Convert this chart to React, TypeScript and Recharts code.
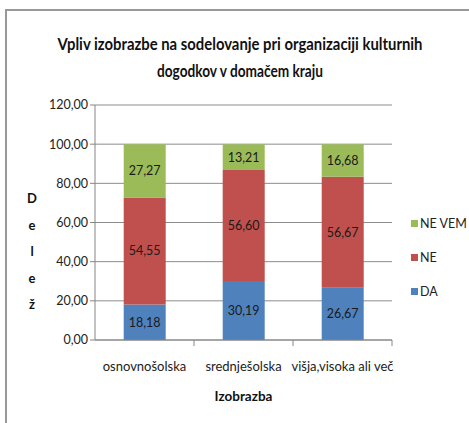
import React from "react";
import {
  BarChart,
  Bar,
  XAxis,
  YAxis,
  CartesianGrid,
  LabelList,
} from "recharts";

const categories = ["osnovnošolska", "srednješolska", "višja,visoka ali več"];
const daValues = [18.18, 30.19, 26.67];
const neValues = [54.55, 56.6, 56.67];
const neVemValues = [27.27, 13.21, 16.68];
const yTicks = [0, 20, 40, 60, 80, 100, 120];

const FONT = "Lato, 'Open Sans', sans-serif";
const BLUE = "#4f81bd";
const RED = "#c0504d";
const GREEN = "#9bbb59";

const data = categories.map((name, i) => ({
  name,
  da: daValues[i],
  ne: neValues[i],
  neVem: neVemValues[i],
}));

const legendItems = [
  { label: "NE VEM", color: GREEN },
  { label: "NE", color: RED },
  { label: "DA", color: BLUE },
];

function fmt(v: number): string {
  return v.toFixed(2).replace(".", ",");
}

const PLOT_LEFT = 95;
const PLOT_RIGHT = 392;
const BAND = (PLOT_RIGHT - PLOT_LEFT) / categories.length;

function CategoryTick(props: any) {
  const { x, y, payload } = props;
  const edge = x + BAND / 2;
  return (
    <g>
      <line x1={edge} y1={y - 8} x2={edge} y2={y - 2} stroke="#868686" />
      <text
        x={x}
        y={y + 23}
        textAnchor="middle"
        fontFamily={FONT}
        fontSize={13}
        fill="#222"
      >
        {payload.value}
      </text>
    </g>
  );
}

const labelStyle = { fontFamily: FONT, fontSize: 12.5, fill: "#1a1a1a" };

export default function App() {
  return (
    <div
      style={{
        position: "absolute",
        left: 0,
        top: 0,
        width: 469,
        height: 423,
        background: "#fff",
        overflow: "hidden",
        fontFamily: FONT,
      }}
    >
      <div
        style={{
          position: "absolute",
          left: 5,
          top: 9,
          width: 480,
          height: 430,
          borderTop: "2px solid #999",
          borderLeft: "2px solid #999",
        }}
      />
      <svg
        width={469}
        height={423}
        style={{ position: "absolute", left: 0, top: 0 }}
      >
        <text
          x={240}
          y={50}
          textAnchor="middle"
          fontFamily={FONT}
          fontWeight="bold"
          fontSize={17.5}
          fill="#111"
          textLength={365}
          lengthAdjust="spacingAndGlyphs"
        >
          Vpliv izobrazbe na sodelovanje pri organizaciji kulturnih
        </text>
        <text
          x={240}
          y={77}
          textAnchor="middle"
          fontFamily={FONT}
          fontWeight="bold"
          fontSize={17.5}
          fill="#111"
          textLength={166}
          lengthAdjust="spacingAndGlyphs"
        >
          dogodkov v domačem kraju
        </text>
      </svg>
      <div
        style={{
          position: "absolute",
          left: 22,
          top: 185,
          width: 20,
          textAlign: "center",
          fontSize: 13,
          fontWeight: "bold",
          lineHeight: "26.5px",
          color: "#111",
        }}
      >
        {"Delež".split("").map((c, i) => (
          <div key={i}>{c}</div>
        ))}
      </div>
      <div
        style={{
          position: "absolute",
          left: PLOT_LEFT,
          width: PLOT_RIGHT - PLOT_LEFT,
          top: 388,
          textAlign: "center",
          fontSize: 13.5,
          fontWeight: "bold",
          color: "#111",
        }}
      >
        Izobrazba
      </div>
      <div style={{ position: "absolute", left: 411, top: 214 }}>
        {legendItems.map((it) => (
          <div
            key={it.label}
            style={{
              display: "flex",
              alignItems: "center",
              height: 18,
              marginBottom: 16,
              fontSize: 12.5,
              color: "#222",
            }}
          >
            <span
              style={{
                width: 7,
                height: 7,
                background: it.color,
                marginRight: 2,
              }}
            />
            {it.label}
          </div>
        ))}
      </div>
      <BarChart
        width={469}
        height={423}
        data={data}
        margin={{ top: 105, right: 469 - PLOT_RIGHT, bottom: 53, left: 45 }}
        barCategoryGap="29%"
        style={{ position: "absolute", left: 0, top: 0 }}
      >
        <CartesianGrid vertical={false} stroke="#8c8c8c" />
        <XAxis
          dataKey="name"
          height={30}
          axisLine={{ stroke: "#868686" }}
          tickLine={false}
          tick={<CategoryTick />}
          interval={0}
        />
        <YAxis
          width={50}
          domain={[0, 120]}
          ticks={yTicks}
          tickFormatter={fmt}
          axisLine={{ stroke: "#868686" }}
          tickLine={{ stroke: "#868686" }}
          tickSize={5}
          tick={{ fontFamily: FONT, fontSize: 12.5, fill: "#222" }}
        />
        <Bar dataKey="da" stackId="a" fill={BLUE} isAnimationActive={false}>
          <LabelList
            dataKey="da"
            position="center"
            formatter={(v: any) => fmt(Number(v))}
            style={labelStyle}
          />
        </Bar>
        <Bar dataKey="ne" stackId="a" fill={RED} isAnimationActive={false}>
          <LabelList
            dataKey="ne"
            position="center"
            formatter={(v: any) => fmt(Number(v))}
            style={labelStyle}
          />
        </Bar>
        <Bar dataKey="neVem" stackId="a" fill={GREEN} isAnimationActive={false}>
          <LabelList
            dataKey="neVem"
            position="center"
            formatter={(v: any) => fmt(Number(v))}
            style={labelStyle}
          />
        </Bar>
      </BarChart>
    </div>
  );
}
